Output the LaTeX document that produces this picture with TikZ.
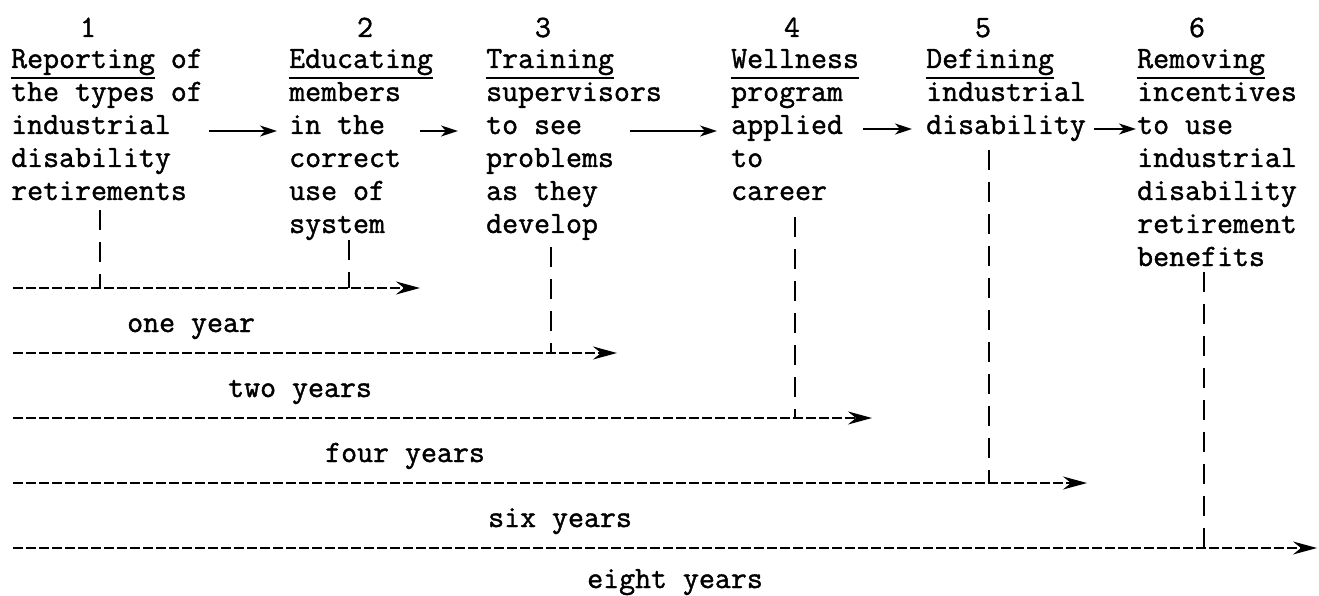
\documentclass[tikz,border=0pt]{standalone}
\usepackage{fontspec}
\newfontfamily\tw[FakeBold=1.3]{Latin Modern Mono}
\usetikzlibrary{arrows.meta}
\newcommand\ulw[1]{\setbox0\hbox{#1}\rlap{\rule[-11pt]{\wd0}{2pt}}\box0}
\begin{document}
\begin{tikzpicture}[x=1pt,y=1pt,
  txt/.style={font=\tw\fontsize{31}{33}\selectfont, inner sep=0pt, anchor=base west},
  num/.style={txt, anchor=base},
  toparrow/.style={line width=2pt, -{Stealth[length=17pt,width=11pt,inset=5pt]}},
  timeline/.style={line width=2pt, dash pattern=on 10pt off 3pt, -{Stealth[length=24pt,width=13pt,inset=8pt]}},
  tick/.style={line width=2pt, dash pattern=on 20pt off 12pt}]
\useasboundingbox (0,0) rectangle (1319,-596);
% step numbers
\node[num] (n1) at (88,-37) {1};
\node[num] (n2) at (365,-37) {2};
\node[num] (n3) at (543,-37) {3};
\node[num] (n4) at (792,-37) {4};
\node[num] (n5) at (983,-37) {5};
\node[num] (n6) at (1197,-37) {6};
% columns
\foreach \t [count=\i] in {\ulw{Reporting}\ of, the types of, industrial, disability, retirements}
  \node[txt] (c1-\i) at (11,{-68-33*(\i-1)}) {\t};
\foreach \t [count=\i] in {\ulw{Educating}, members, in the, correct, use of, system}
  \node[txt] (c2-\i) at (289,{-68-33*(\i-1)}) {\t};
\foreach \t [count=\i] in {\ulw{Training}, supervisors, to see, problems, as they, develop}
  \node[txt] (c3-\i) at (486,{-68-33*(\i-1)}) {\t};
\foreach \t [count=\i] in {\ulw{Wellness}, program, applied, to, career}
  \node[txt] (c4-\i) at (731,{-68-33*(\i-1)}) {\t};
\foreach \t [count=\i] in {\ulw{Defining}, industrial, disability}
  \node[txt] (c5-\i) at (926,{-68-33*(\i-1)}) {\t};
\foreach \t [count=\i] in {\ulw{Removing}, incentives, to use, industrial, disability, retirement, benefits}
  \node[txt] (c6-\i) at (1137,{-68-33*(\i-1)}) {\t};
% arrows between steps
\draw[toparrow] ([xshift=38pt,yshift=3pt]c1-3.base east) -- ([xshift=-12pt,yshift=3pt]c2-3.base west);
\draw[toparrow] ([xshift=35pt,yshift=3pt]c2-3.base east) -- ([xshift=-28pt,yshift=3pt]c3-3.base west);
\draw[toparrow] ([xshift=48pt,yshift=3pt]c3-3.base east) -- ([xshift=-14pt,yshift=3pt]c4-3.base west);
\draw[toparrow] ([xshift=20pt,yshift=5pt]c4-3.base east) -- ([xshift=-14pt,yshift=5pt]c5-3.base west);
\draw[toparrow] ([xshift=8pt,yshift=5pt]c5-3.base east) -- ([xshift=-1pt,yshift=5pt]c6-3.base west);
% time lines
\coordinate (L1) at (13,-288);  \coordinate (R1) at (420,-288);
\coordinate (L2) at (13,-353);  \coordinate (R2) at (617,-353);
\coordinate (L3) at (13,-418);  \coordinate (R3) at (872,-418);
\coordinate (L4) at (13,-483);  \coordinate (R4) at (1087,-483);
\coordinate (L5) at (13,-548);  \coordinate (R5) at (1317,-548);
\foreach \k in {1,...,5} \draw[timeline] (L\k) -- (R\k);
\node[txt] (y1) at (127,-332) {one year};
\node[txt] (y2) at (228,-397) {two years};
\node[txt] (y3) at (325,-462) {four years};
\node[txt] (y4) at (488,-527) {six years};
\node[txt] (y5) at (587,-588) {eight years};
% ticks down from each step
\coordinate (v1) at (100,-210);
\coordinate (v2) at (349,-240);
\coordinate (v3) at (551,-247);
\coordinate (v4) at (795,-217);
\coordinate (v5) at (989,-150);
\coordinate (v6) at (1204,-272);
\draw[tick] (v1) -- (v1 |- L1);
\draw[tick] (v2) -- (v2 |- L1);
\draw[tick] (v3) -- (v3 |- L2);
\draw[tick] (v4) -- (v4 |- L3);
\draw[tick] (v5) -- (v5 |- L4);
\draw[tick] (v6) -- (v6 |- L5);
\end{tikzpicture}
\end{document}
